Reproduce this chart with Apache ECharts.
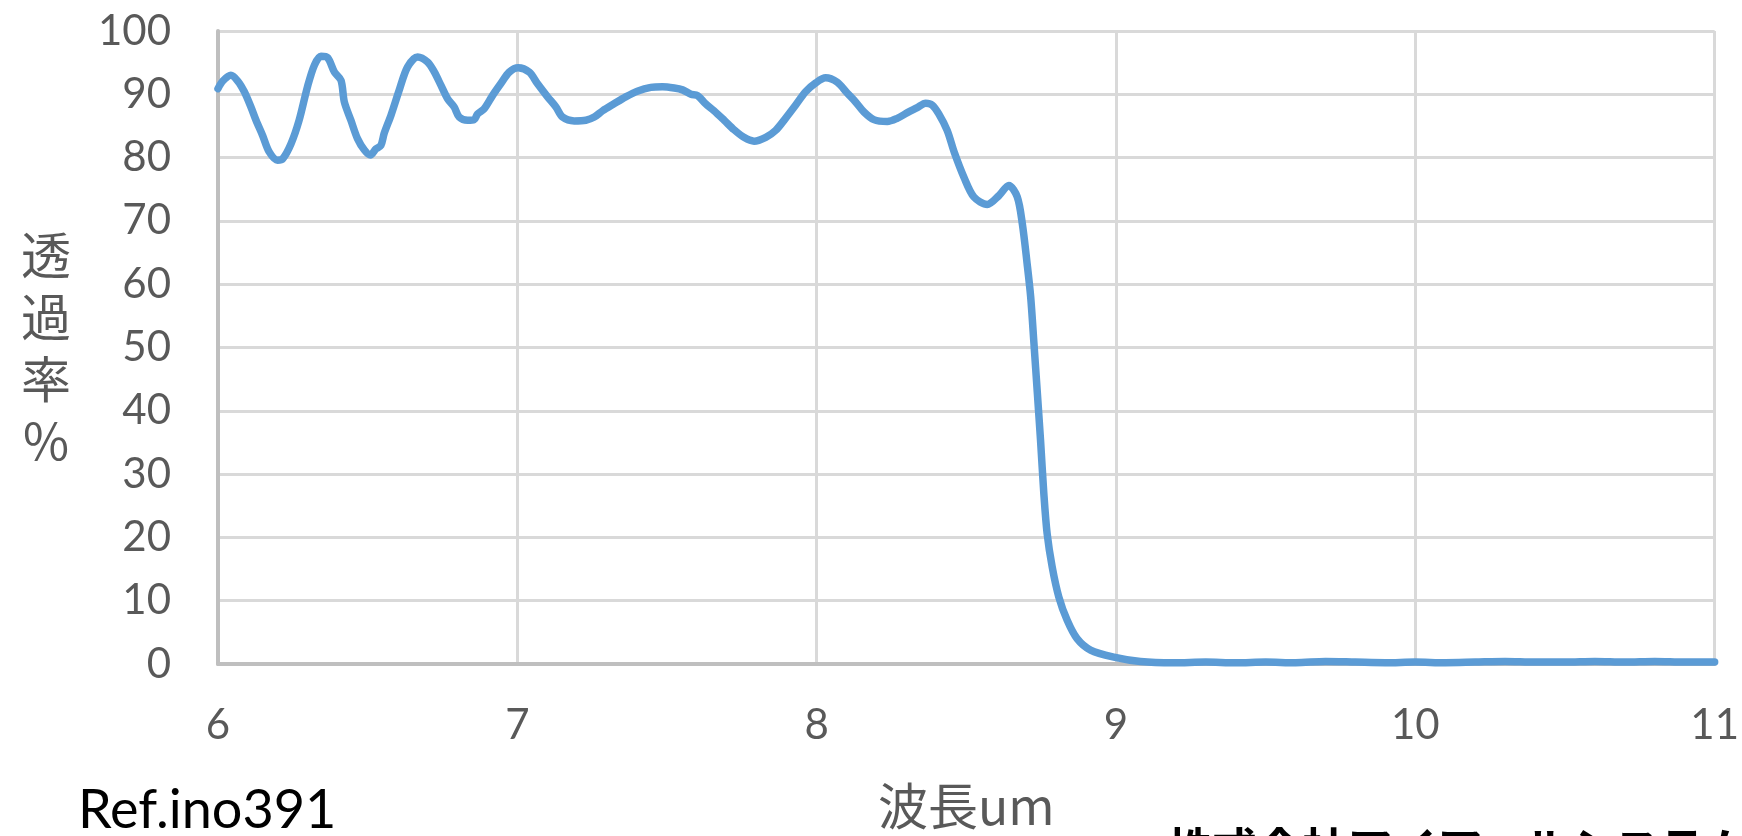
<!DOCTYPE html>
<html>
<head>
<meta charset="utf-8">
<script src="https://cdn.jsdelivr.net/npm/echarts@6/dist/echarts.min.js"></script>
<style>
html,body{margin:0;padding:0;background:#fff;}
#chart{width:1742px;height:836px;}
</style>
</head>
<body>
<div id="chart"></div>
<script>
// wavelength (um)
var wavelength = [
6.000,6.016,6.043,6.066,6.088,6.110,6.127,6.149,6.171,6.199,6.216,6.244,6.271,6.299,6.322,6.344,6.366,6.389,6.411,6.422,
6.444,6.466,6.489,6.509,6.528,6.544,6.555,6.578,6.605,6.633,6.667,6.700,6.723,6.745,6.767,6.789,6.806,6.834,6.856,6.867,
6.889,6.917,6.945,6.973,7.003,7.040,7.067,7.101,7.129,7.151,7.190,7.229,7.257,7.285,7.323,7.362,7.401,7.446,7.485,7.524,
7.552,7.580,7.602,7.629,7.657,7.691,7.724,7.757,7.791,7.830,7.863,7.896,7.930,7.963,7.997,8.030,8.069,8.102,8.130,8.158,
8.191,8.236,8.269,8.303,8.336,8.364,8.386,8.408,8.436,8.460,8.492,8.525,8.570,8.609,8.642,8.670,8.687,8.703,8.715,8.726,
8.737,8.748,8.759,8.770,8.787,8.809,8.837,8.870,8.915,8.993,9.082,9.193,9.300,9.400,9.500,9.600,9.700,9.800,9.900,10.000,
10.100,10.200,10.300,10.400,10.500,10.600,10.700,10.800,10.900,11.000
];
// transmittance (%)
var transmittance = [
90.9,92.1,93.0,92.1,90.4,88.0,85.9,83.5,80.9,79.6,79.8,82.2,85.9,91.2,94.6,96.0,95.8,93.5,92.2,88.8,
85.9,83.0,81.2,80.4,81.4,81.9,83.8,86.7,90.6,94.3,95.9,95.1,93.5,91.4,89.3,88.0,86.4,85.9,86.0,86.9,
87.7,89.8,91.7,93.5,94.2,93.5,91.7,89.6,88.0,86.4,85.8,85.9,86.4,87.4,88.5,89.6,90.5,91.1,91.2,91.0,
90.7,90.0,89.8,88.5,87.4,85.9,84.4,83.2,82.6,83.2,84.3,86.2,88.3,90.4,91.8,92.6,91.9,90.2,88.8,87.2,
86.0,85.7,86.2,87.1,87.9,88.6,88.3,86.9,84.3,80.8,76.9,73.8,72.6,74.0,75.6,73.8,69.6,63.3,58.0,50.6,
43.0,35.3,26.9,20.6,15.3,10.6,6.9,4.0,2.2,1.1,0.4,0.2,0.3,0.2,0.3,0.2,0.4,0.3,0.2,0.3,
0.2,0.3,0.4,0.3,0.3,0.4,0.3,0.4,0.3,0.3
];
var xTicks = [6,7,8,9,10,11];
var yTicks = [0,10,20,30,40,50,60,70,80,90,100];
var xName = '波長um';
var yName = '透\n過\n率\n%';
var refText = 'Ref.ino391';
var companyText = '株式会社アイアールシステム';

var points = wavelength.map(function(w,i){return [w, transmittance[i]];});

var chart = echarts.init(document.getElementById('chart'), null, {renderer:'canvas'});
chart.setOption({
  animation:false,
  backgroundColor:'#ffffff',
  grid:{left:218,right:27,top:31,bottom:172,containLabel:false},
  xAxis:{
    type:'value',
    min:xTicks[0], max:xTicks[xTicks.length-1], interval:1,
    name:xName, nameLocation:'middle', nameGap:117,
    nameTextStyle:{fontFamily:'Noto Sans CJK JP', fontSize:50, color:'#595959'},
    axisLine:{show:true,onZero:true,lineStyle:{color:'#bfbfbf',width:4}},
    axisTick:{show:false},
    axisLabel:{margin:40,fontFamily:'Lato',fontSize:42,color:'#595959'},
    splitLine:{show:true,lineStyle:{color:'#d9d9d9',width:3}}
  },
  yAxis:{
    type:'value',
    min:yTicks[0], max:yTicks[yTicks.length-1], interval:10,
    name:yName, nameLocation:'middle', nameRotate:0, nameGap:172,
    nameTextStyle:{fontFamily:'Noto Sans CJK JP', fontSize:50, lineHeight:62, color:'#595959', align:'center', padding:[16,0,0,0]},
    axisLine:{show:true,lineStyle:{color:'#bfbfbf',width:4}},
    axisTick:{show:false},
    axisLabel:{margin:47,fontFamily:'Lato',fontSize:42,color:'#595959'},
    splitLine:{show:true,lineStyle:{color:'#d9d9d9',width:3}}
  },
  series:[{
    type:'line',
    data:points,
    showSymbol:false,
    smooth:0.3,
    lineStyle:{color:'#5b9bd5',width:7.5,cap:'round',join:'round'},
    z:5
  }],
  graphic:[
    {type:'text',left:78,top:784,style:{text:refText,fontFamily:'Lato',fontSize:54,fill:'#000000'}},
    {type:'text',left:1167,top:826,style:{text:companyText,fontFamily:'Noto Sans CJK JP',fontSize:45,fontWeight:'bold',fill:'#000000'}}
  ]
});
</script>
</body>
</html>
